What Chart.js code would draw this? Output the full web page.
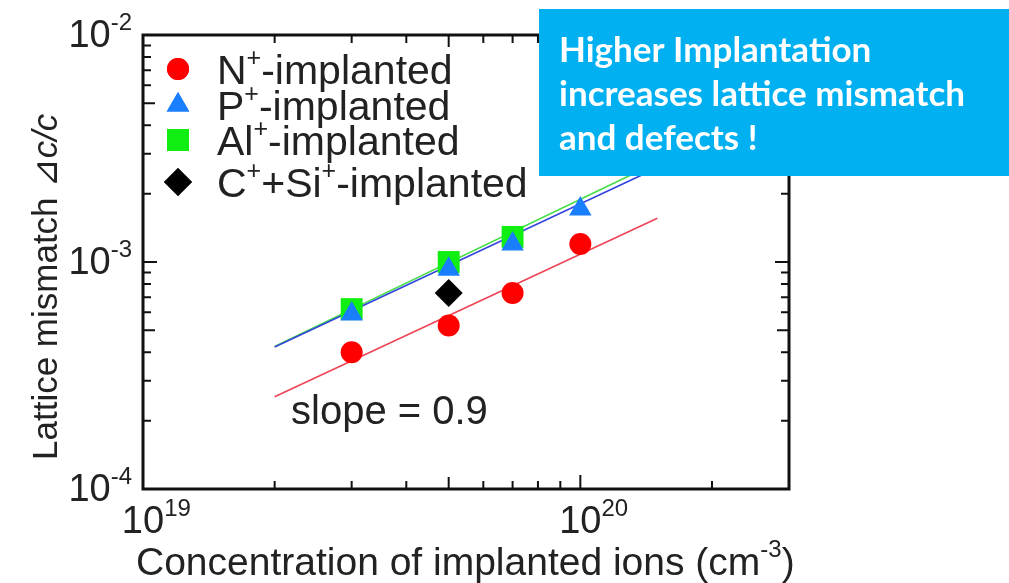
<!DOCTYPE html>
<html>
<head>
<meta charset="utf-8">
<script src="https://cdn.jsdelivr.net/npm/chart.js"></script>
<style>
  body { margin: 0; background: #fff; }
  #wrap { width: 1009px; height: 583px; }
</style>
</head>
<body>
<div id="wrap"><canvas id="myChart" width="1009" height="583"></canvas></div>
<script>
// measured lattice mismatch vs. implanted ion concentration
const concN = [3e19, 5e19, 7e19, 1e20];
const mismatchN = [4.0e-4, 5.25e-4, 7.3e-4, 1.2e-3];
const concP = [3e19, 5e19, 7e19, 1e20];
const mismatchP = [5.9e-4, 9.3e-4, 1.2e-3, 1.71e-3];
const concAl = [3e19, 5e19, 7e19];
const mismatchAl = [6.2e-4, 1.0e-3, 1.29e-3];
const concCSi = [5e19];
const mismatchCSi = [7.3e-4];

// fitted lines (slope ~0.9 on log-log)
const fitConc = [2e19, 1.5e20];
const fitN = [2.55e-4, 1.56e-3];
const fitP = [4.22e-4, 2.6e-3];
const fitAl = [4.25e-4, 2.75e-3];

const xTickValues = [1e19, 1e20];
const xTickExps = ["19", "20"];
const yTickValues = [1e-4, 1e-3, 1e-2];
const yTickExps = ["-4", "-3", "-2"];

const legendLabels = [
  [{ t: "N" }, { t: "+", sup: true }, { t: "-implanted" }],
  [{ t: "P" }, { t: "+", sup: true }, { t: "-implanted" }],
  [{ t: "Al" }, { t: "+", sup: true }, { t: "-implanted" }],
  [{ t: "C" }, { t: "+", sup: true }, { t: "+Si" }, { t: "+", sup: true }, { t: "-implanted" }],
];
const noteLines = ["Higher Implantation", "increases lattice mismatch", "and defects !"];

const FONT = "'Liberation Sans', Arial, 'DejaVu Sans', sans-serif";

const pts = (xs, ys) => xs.map((x, i) => ({ x: x, y: ys[i] }));

const markerStyles = [
  { pointStyle: "circle", radius: 11, color: "#ff0000" },
  { pointStyle: "triangle", radius: 13, color: "#1a7fff" },
  { pointStyle: "rect", radius: 15.5, color: "#11ee11" },
  { pointStyle: "rectRot", radius: 14, color: "#000000" },
];

function markerSet(label, data, st) {
  return {
    label: label,
    data: data,
    showLine: false,
    pointStyle: st.pointStyle,
    pointRadius: st.radius,
    pointBackgroundColor: st.color,
    pointBorderColor: st.color,
    pointBorderWidth: 0,
    pointHoverRadius: st.radius,
  };
}

function fitSet(label, data, color) {
  return {
    label: label,
    data: data,
    showLine: true,
    borderColor: color,
    borderWidth: 1.6,
    pointRadius: 0,
    pointHoverRadius: 0,
    fill: false,
  };
}

// text with superscript / italic pieces
function richWidth(ctx, parts, size) {
  let w = 0;
  parts.forEach((p) => {
    ctx.font = (p.italic ? "italic " : "") + (p.sup ? Math.round(size * 0.62) : size) + "px " + FONT;
    w += ctx.measureText(p.t).width;
  });
  return w;
}

function drawRich(ctx, parts, x, y, size) {
  ctx.textAlign = "left";
  ctx.textBaseline = "alphabetic";
  parts.forEach((p) => {
    const s = p.sup ? Math.round(size * 0.62) : size;
    ctx.font = (p.italic ? "italic " : "") + s + "px " + FONT;
    ctx.fillText(p.t, x, p.sup ? y - size * 0.45 : y);
    x += ctx.measureText(p.t).width;
  });
}

function minorValues(lo, hi) {
  const out = [];
  for (let d = Math.floor(Math.log10(lo)); d <= Math.ceil(Math.log10(hi)); d++) {
    for (let m = 1; m <= 9; m++) {
      const v = m * Math.pow(10, d);
      if (v > lo * 1.0001 && v < hi * 0.9999) out.push({ v: v, m: m });
    }
  }
  return out;
}

const framePlugin = {
  id: "frame",
  afterDatasetsDraw(chart) {
    const ctx = chart.ctx;
    const a = chart.chartArea;
    const xs = chart.scales.x;
    const ys = chart.scales.y;
    ctx.save();

    // inward ticks on all four sides
    ctx.strokeStyle = "#111";
    ctx.lineWidth = 2;
    const len = (m) => (m === 1 ? 14 : m === 5 ? 12 : 8);
    minorValues(xs.min, xs.max).forEach((t) => {
      const px = xs.getPixelForValue(t.v);
      ctx.beginPath();
      ctx.moveTo(px, a.bottom);
      ctx.lineTo(px, a.bottom - len(t.m));
      ctx.moveTo(px, a.top);
      ctx.lineTo(px, a.top + len(t.m));
      ctx.stroke();
    });
    minorValues(ys.min, ys.max).forEach((t) => {
      const py = ys.getPixelForValue(t.v);
      ctx.beginPath();
      ctx.moveTo(a.left, py);
      ctx.lineTo(a.left + len(t.m), py);
      ctx.moveTo(a.right, py);
      ctx.lineTo(a.right - len(t.m), py);
      ctx.stroke();
    });

    // frame
    ctx.lineWidth = 3;
    ctx.strokeRect(a.left, a.top, a.right - a.left, a.bottom - a.top);

    // tick labels
    ctx.fillStyle = "#222";
    const tsize = 38;
    xTickValues.forEach((v, i) => {
      const px = xs.getPixelForValue(v);
      ctx.font = tsize + "px " + FONT;
      const w10 = ctx.measureText("10").width;
      drawRich(ctx, [{ t: "10" }, { t: xTickExps[i], sup: true }], px - w10 / 2, a.bottom + 44, tsize);
    });
    yTickValues.forEach((v, i) => {
      const py = ys.getPixelForValue(v);
      const parts = [{ t: "10" }, { t: yTickExps[i], sup: true }];
      const w = richWidth(ctx, parts, tsize);
      drawRich(ctx, parts, a.left - 11 - w, py + 12, tsize);
    });

    // axis titles
    drawRich(ctx, [{ t: "Concentration of implanted ions (cm" }, { t: "-3", sup: true }, { t: ")" }], 136, 575, 39);
    ctx.save();
    ctx.translate(57, 460);
    ctx.rotate(-Math.PI / 2);
    drawRich(ctx, [{ t: "Lattice mismatch " }, { t: "\u22BFc/c", italic: true }], 0, 0, 35);
    ctx.restore();

    // legend
    const rowsY = [69, 105, 140, 182];
    legendLabels.forEach((parts, i) => {
      const st = markerStyles[i];
      ctx.fillStyle = st.color;
      Chart.helpers.drawPoint(ctx, { pointStyle: st.pointStyle, radius: st.radius, borderWidth: 0, rotation: 0 }, 178, rowsY[i]);
      ctx.fill();
      ctx.fillStyle = "#222";
      drawRich(ctx, parts, 217, rowsY[i] + 15, 41);
    });

    ctx.font = "40px " + FONT;
    ctx.fillText("slope = 0.9", 291, 424);

    // note box
    ctx.fillStyle = "#00b0f0";
    ctx.fillRect(539, 9, 470, 167);
    ctx.fillStyle = "#ffffff";
    ctx.font = "bold 35px Lato, 'Open Sans', sans-serif";
    noteLines.forEach((s, i) => ctx.fillText(s, 559, 62 + i * 44));

    ctx.restore();
  },
};

new Chart(document.getElementById("myChart"), {
  type: "scatter",
  data: {
    datasets: [
      markerSet("N+-implanted", pts(concN, mismatchN), markerStyles[0]),
      markerSet("P+-implanted", pts(concP, mismatchP), markerStyles[1]),
      markerSet("Al+-implanted", pts(concAl, mismatchAl), markerStyles[2]),
      markerSet("C+ + Si+-implanted", pts(concCSi, mismatchCSi), markerStyles[3]),
      fitSet("N fit", pts(fitConc, fitN), "#ee4455"),
      fitSet("P fit", pts(fitConc, fitP), "#3344dd"),
      fitSet("Al fit", pts(fitConc, fitAl), "#44dd44"),
    ],
  },
  options: {
    responsive: false,
    animation: false,
    layout: { padding: { left: 143, top: 35, right: 220, bottom: 94 } },
    plugins: { legend: { display: false }, tooltip: { enabled: false } },
    scales: {
      x: { type: "logarithmic", min: 1e19, max: 3e20, display: false },
      y: { type: "logarithmic", min: 1e-4, max: 1e-2, display: false },
    },
  },
  plugins: [framePlugin],
});
</script>
</body>
</html>
